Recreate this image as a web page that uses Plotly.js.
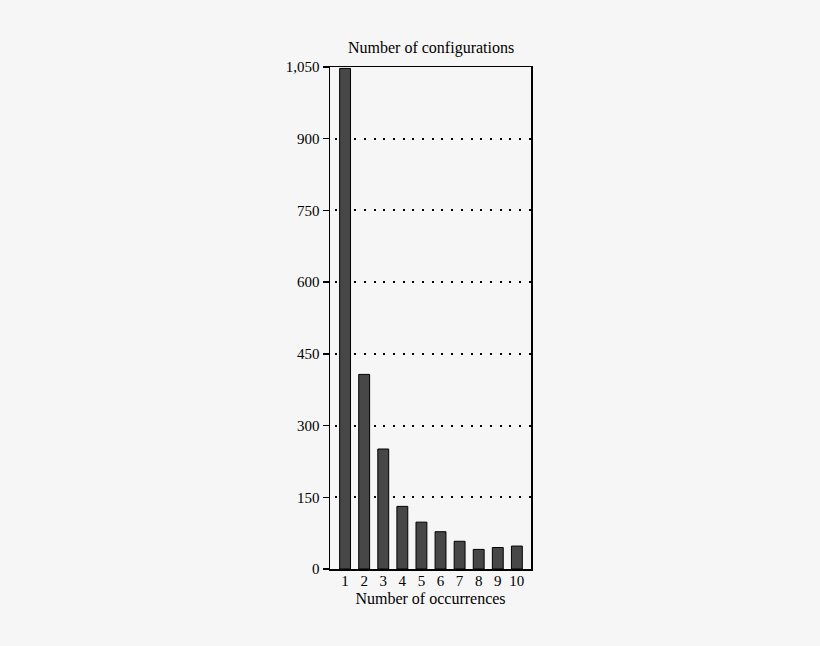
<!DOCTYPE html>
<html>
<head>
<meta charset="utf-8">
<script src="https://cdn.plot.ly/plotly-3.0.1.min.js"></script>
<style>
html,body{margin:0;padding:0;background:#f6f6f6;}
#chart{width:820px;height:646px;}
</style>
</head>
<body>
<div id="chart"></div>
<script>
const occurrences = [1, 2, 3, 4, 5, 6, 7, 8, 9, 10];
const configurations = [1047, 407, 251, 131, 98, 78, 58, 41, 45, 48];
const yTicks = [0, 150, 300, 450, 600, 750, 900, 1050];
const yTickLabels = ['0', '150', '300', '450', '600', '750', '900', '1,050'];
const xTitle = 'Number of occurrences';
const yTitle = 'Number of configurations';

const font = {family: '"Liberation Serif", "Times New Roman", serif', color: '#000', size: 15};

Plotly.newPlot('chart', [{
  type: 'bar',
  x: occurrences,
  y: configurations,
  marker: {color: '#474747', line: {color: '#000', width: 1}},
  width: 0.57,
  hoverinfo: 'skip'
}], {
  width: 820, height: 646,
  paper_bgcolor: '#f6f6f6',
  plot_bgcolor: '#f6f6f6',
  margin: {l: 330, r: 289, t: 67, b: 77},
  font: font,
  showlegend: false,
  xaxis: {
    range: [0.21, 10.74],
    tickvals: occurrences,
    ticktext: occurrences.map(String),
    ticks: '',
    ticklabelstandoff: -3,
    showgrid: false,
    zeroline: false,
    showline: true, linecolor: '#000', linewidth: 1.5, mirror: true,
    tickfont: {size: 15},
    title: {text: xTitle, font: {size: 16}, standoff: 5}
  },
  yaxis: {
    range: [0, 1050],
    tickvals: yTicks,
    ticktext: yTickLabels,
    ticks: 'outside', ticklen: 6, tickcolor: '#000', tickwidth: 1.5,
    showgrid: true, gridcolor: '#000', griddash: '0px,4.7px,2px,3px', gridwidth: 2,
    zeroline: false,
    showline: true, linecolor: '#000', linewidth: 1.5, mirror: true,
    tickfont: {size: 15}
  },
  annotations: [{
    text: yTitle, xref: 'paper', yref: 'paper', x: 0.5, y: 1,
    xanchor: 'center', yanchor: 'bottom', yshift: 8, showarrow: false,
    font: {size: 16}
  }]
}, {displayModeBar: false, staticPlot: true});
</script>
</body>
</html>
